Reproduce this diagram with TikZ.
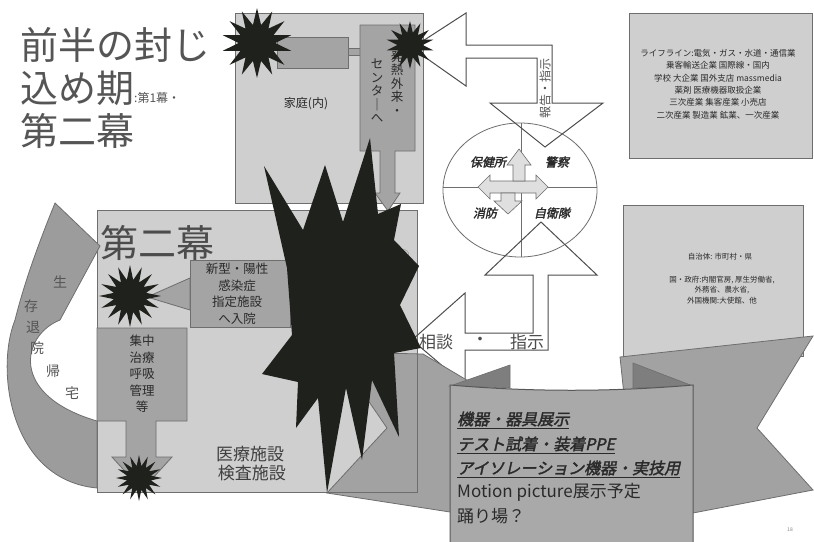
\documentclass[tikz,border=0pt]{standalone}
\usepackage{fontspec}
\setmainfont{Noto Sans CJK JP}
\newfontfamily\jpbi{Noto Sans CJK JP}[FakeSlant=0.22,FakeBold=2]
\usetikzlibrary{shapes.geometric}
\definecolor{boxfill}{HTML}{CFCFCF}
\definecolor{midgray}{HTML}{A4A4A4}
\definecolor{edge}{HTML}{6E6E6E}
\definecolor{ink}{HTML}{2A2A2A}
\definecolor{starblk}{HTML}{1E211C}
\definecolor{titlegray}{HTML}{555555}
\definecolor{ribbon}{HTML}{A9A9A9}
\definecolor{wing}{HTML}{A2A2A2}
\definecolor{fold}{HTML}{7E7E7E}
\definecolor{arrowgray}{HTML}{9C9C9C}
\begin{document}
\begin{tikzpicture}[x=1pt,y=-1pt,
  panel/.style={fill=boxfill,draw=edge,line width=1pt},
  innerbox/.style={fill=midgray,draw=edge,line width=0.8pt},
  burst/.style={star,star points=14,star point ratio=1.9,fill=starblk,draw=none,inner sep=0pt},
  flow/.style={draw=edge!70!black,line width=1pt},
  lbl/.style={inner sep=0pt,text=ink},
  vtext/.style={inner sep=0pt,text=ink,align=center,font=\fontsize{12.5}{13.5}\selectfont},
  small/.style={inner sep=0pt,text=ink,align=center},
  titletext/.style={anchor=west,inner sep=0pt,text=titlegray,font=\fontsize{38}{40}\selectfont}]
\useasboundingbox (0,0) rectangle (814,541);
\fill[white] (0,0) rectangle (814,541);

% ---- main boxes
\draw[panel] (235,13) rectangle (423,203);
\draw[panel] (97,210) rectangle (417,492);
\draw[panel] (629,13) rectangle (812,158);
\draw[panel] (623,205) rectangle (803,356);

% ---- title
\node[titletext] (t1) at (20,45) {前半の封じ};
\node[titletext] (t2) at (20,88) {込め期\fontsize{12}{14}\selectfont :第1幕・};
\node[titletext] (t3) at (20,131) {第二幕};

% ---- top box contents
\draw[innerbox] (277,37) rectangle (348,68);
\draw[innerbox] (348,48) rectangle (360,55);
\draw[innerbox] (360,25) -- (415,25) -- (415,151) -- (395,151) -- (395,193) -- (400,193)
   -- (388,211) -- (375,193) -- (380,193) -- (380,151) -- (360,151) -- cycle;
\node[vtext] (hn1) at (397,83) {発\\熱\\外\\来\\・};
\node[vtext] (hn2) at (377,91) {セ\\ン\\タ\\｜\\へ};
\node[lbl,font=\fontsize{12}{14}\selectfont] (home) at (306,104) {家庭(内)};

% ---- lower box contents
\node[anchor=west,inner sep=0pt,text=titlegray!90!black,font=\fontsize{38}{40}\selectfont] (act2) at (100,243) {第二幕};
\node[lbl,text=titlegray,font=\fontsize{10}{12}\selectfont] (c2) at (404,255) {②};
\draw[innerbox] (190,260) rectangle (290,327);
\draw[innerbox] (190,278) -- (147,297) -- (190,310) -- cycle;
\node[small,font=\fontsize{12.5}{16.5}\selectfont] (inf) at (237,294) {新型・陽性\\感染症\\指定施設\\へ入院};
\draw[innerbox] (97,328) -- (187,328) -- (187,421) -- (156,421) -- (156,457) -- (172,457)
   -- (142,490) -- (112,457) -- (126,457) -- (126,421) -- (97,421) -- cycle;
\node[small,font=\fontsize{12.5}{16.5}\selectfont] (icu) at (142,374) {集中\\治療\\呼吸\\管理\\等};
\node[small,font=\fontsize{17}{19}\selectfont,text=ink!90] (med) at (250,464) {医療施設\\\ 検査施設};

% ---- curved return arrow
\draw[fill=arrowgray,draw=edge,line width=0.8pt] (97,488) .. controls (10,480) and (-5,370) .. (15,320)
   .. controls (25,280) and (40,240) .. (55,203) -- (100,246) -- (60,320)
   .. controls (22,335) and (8,395) .. (97,421) -- cycle;
\foreach \ch/\px/\py [count=\i] in {生/60/282,存/31/306,退/33/327,院/37/348,帰/53/371,宅/72/393}
  \node[lbl,text=titlegray,font=\fontsize{14}{16}\selectfont] (r\i) at (\px,\py) {\ch};

% ---- ellipse with agencies
\draw[draw=edge,line width=0.8pt] (520,190) ellipse [x radius=77,y radius=67];
\draw[draw=edge,line width=0.6pt] (521,123) -- (521,257);
\draw[draw=edge,line width=0.6pt] (443,187) -- (597,187);
\draw[fill=gray!25,draw=edge,line width=0.6pt] (478,187) -- (490,175) -- (490,181) -- (536,181) -- (536,175)
   -- (548,187) -- (536,199) -- (536,193) -- (490,193) -- (490,199) -- cycle;
\draw[fill=gray!25,draw=edge,line width=0.6pt] (513,181) -- (513,165) -- (507,165) -- (519,149) -- (531,165)
   -- (525,165) -- (525,181) -- cycle;
\draw[fill=gray!25,draw=edge,line width=0.6pt] (501,193) -- (501,201) -- (494,201) -- (508,214) -- (522,201)
   -- (515,201) -- (515,193) -- cycle;
\node[lbl,font=\fontsize{12}{14}\jpbi] (ag1) at (488,162) {保健所};
\node[lbl,font=\fontsize{12}{14}\jpbi] (ag2) at (557,162) {警察};
\node[lbl,font=\fontsize{12}{14}\jpbi] (ag3) at (485,213) {消防};
\node[lbl,font=\fontsize{12}{14}\jpbi] (ag4) at (552,213) {自衛隊};

% ---- report / instruct arrow (top)
\draw[flow] (412,48) -- (466,13) -- (466,45) -- (552,45) -- (552,103) -- (603,103) -- (545,147)
   -- (490,103) -- (537,103) -- (537,58) -- (466,58) -- (466,86) -- cycle;
\node[lbl,rotate=90,text=titlegray,font=\fontsize{12}{14}\selectfont] (rep) at (545,88) {報告・指示};

% ---- consult / instruct arrow (bottom)
\draw[flow] (412,340) -- (465,293) -- (465,333) -- (533,333) -- (533,275) -- (485,275) -- (541,222)
   -- (597,275) -- (548,275) -- (548,350) -- (465,350) -- (465,385) -- cycle;
\node[lbl,text=titlegray!90!black,font=\fontsize{17}{19}\selectfont] (cs1) at (436,342) {相談};
\node[lbl,text=titlegray!90!black,font=\fontsize{17}{19}\selectfont] (cs2) at (480,341) {・};
\node[lbl,text=titlegray!90!black,font=\fontsize{17}{19}\selectfont] (cs3) at (527,342) {指示};

% ---- ribbon wings
\draw[fill=wing,draw=edge,line width=0.8pt] (335,352) -- (423,354) -- (470,382) -- (470,512) -- (450,512)
   -- (327,493) -- (387,428) -- cycle;
\draw[draw=edge,line width=1pt] (417,352) -- (417,492) -- (327,492);
\draw[fill=wing,draw=edge,line width=0.8pt] (620,357) -- (813,336) -- (757,428) -- (813,490) -- (693,513)
   -- (633,480) -- cycle;

% ---- bursts
\fill[starblk] (370,138) -- (378,214) -- (401,204) -- (394,240) -- (419,266) -- (400,305) -- (421,348)
   -- (394,353) -- (399,437) -- (372,380) -- (362,460) -- (346,388) -- (327,493) -- (318,398)
   -- (296,428) -- (298,382) -- (262,374) -- (292,335) -- (287,268) -- (264,166) -- (303,230)
   -- (325,165) -- (343,222) -- cycle;
\node[burst,minimum size=70pt] (s1) at (257,43) {};
\node[burst,minimum size=48pt] (s2) at (410,45) {};
\node[burst,minimum size=62pt,star points=16] (s3) at (130,296) {};
\node[burst,minimum size=46pt,star points=16] (s4) at (139,478) {};

% ---- ribbon centre panel
\fill[fold,draw=edge,line width=0.6pt] (450,386) -- (510,365) -- (510,388) -- cycle;
\fill[fold,draw=edge,line width=0.6pt] (633,363) -- (693,386) -- (633,388) -- cycle;
\draw[fill=ribbon,draw=edge!80!black,line width=1pt] (450,385) .. controls (530,392) and (613,392) .. (693,385)
   -- (693,545) -- (450,545) -- cycle;
\node[anchor=west,inner sep=0pt,text=ink,font=\fontsize{16}{18}\jpbi] (b1) at (457,420) {\underline{機器・器具展示}};
\node[anchor=west,inner sep=0pt,text=ink,font=\fontsize{16}{18}\jpbi] (b2) at (457,445) {\underline{テスト試着・装着PPE}};
\node[anchor=west,inner sep=0pt,text=ink,font=\fontsize{16}{18}\jpbi] (b3) at (457,469) {\underline{アイソレーション機器・実技用}};
\node[anchor=west,inner sep=0pt,text=ink,font=\fontsize{17}{19}\selectfont] (b4) at (457,492) {Motion picture展示予定};
\node[anchor=west,inner sep=0pt,text=ink,font=\fontsize{17}{19}\selectfont] (b5) at (457,516) {踊り場？};

% ---- right box texts
\node[small,font=\fontsize{8.5}{12.4}\selectfont] (lst) at (718,84) {ライフライン:電気・ガス・水道・通信業\\乗客輸送企業 国際線・国内\\学校 大企業 国外支店 massmedia\\薬剤 医療機器取扱企業\\三次産業 集客産業 小売店\\二次産業 製造業 鉱業、一次産業};
\node[small,font=\fontsize{7.5}{10.5}\selectfont] (gov1) at (720,257) {自治体: 市町村・県};
\node[small,font=\fontsize{7.5}{10.5}\selectfont] (gov2) at (722,290) {国・政府:内閣官房, 厚生労働省,\\外務省、農水省,\\外国機関:大使館、他};

\node[lbl,font=\fontsize{5}{6}\selectfont,text=gray] (pg) at (790,530) {18};
\end{tikzpicture}
\end{document}
